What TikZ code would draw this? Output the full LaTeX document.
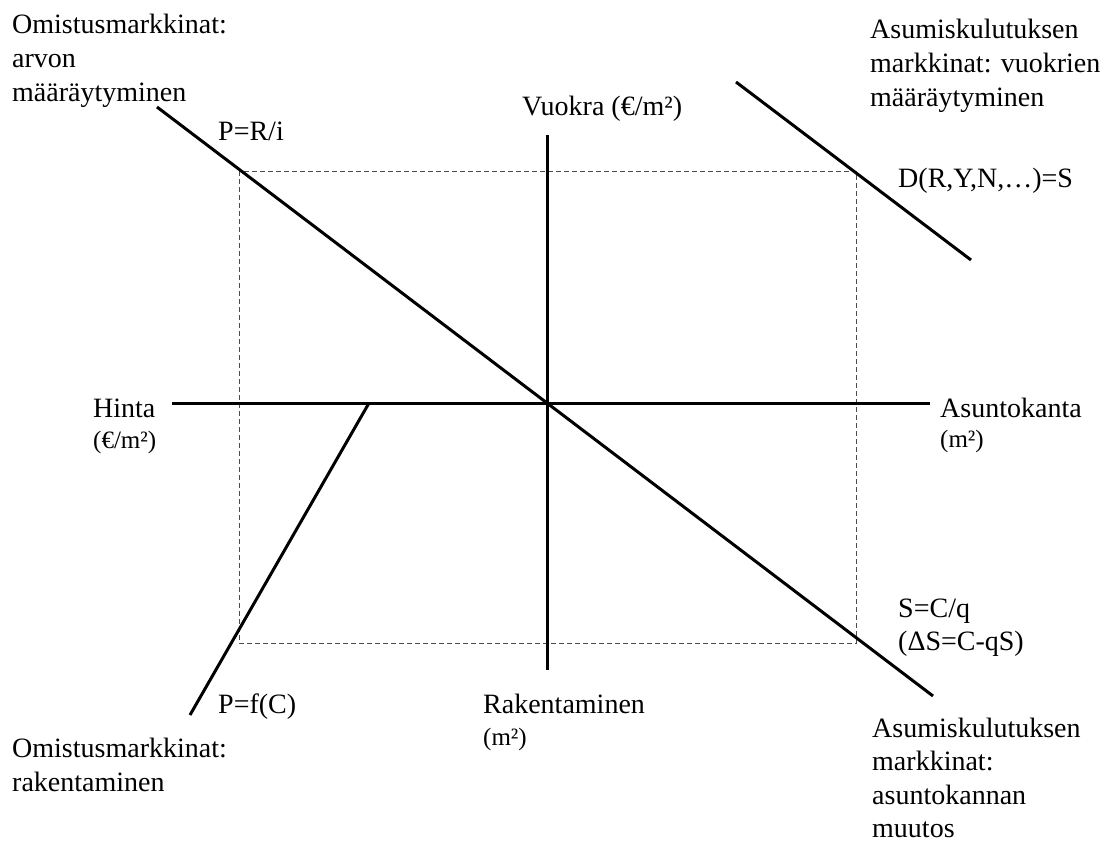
\documentclass[tikz,border=0pt]{standalone}
\usepackage{fontspec}
\setmainfont{Liberation Serif}
\begin{document}
\begin{tikzpicture}[x=1pt,y=-1pt,
  axis/.style={line width=3pt},
  curve/.style={line width=3pt},
  guide/.style={line width=0.9pt, draw=black!70, dash pattern=on 5pt off 3pt},
  lbl/.style={anchor=base west, inner sep=0pt, font=\fontsize{28}{34}\selectfont},
  small/.style={anchor=base west, inner sep=0pt, font=\fontsize{25}{30}\selectfont}]
\useasboundingbox (0,0) rectangle (1102,843);
% coordinates
\coordinate (O) at (547,403);
\coordinate (hL) at (172,403);
\coordinate (hR) at (930,403);
\coordinate (vT) at (547,135);
\coordinate (vB) at (547,670);
\coordinate (dA) at (157,107);
\coordinate (dB) at (933,696);
\coordinate (tA) at (736,82);
\coordinate (tB) at (971,260);
\coordinate (bA) at (369,403);
\coordinate (bB) at (190,715);
\coordinate (r1) at (239,171);
\coordinate (r2) at (856,643);
% guide rectangle
\draw[guide] (r1) rectangle (r2);
% axes and curves
\draw[axis] (hL) -- (hR);
\draw[axis] (vT) -- (vB);
\draw[curve] (dA) -- (dB);
\draw[curve] (tA) -- (tB);
\draw[curve] (bA) -- (bB);
% labels
\node[lbl] (tl) at (12,34) {\parbox[t]{320pt}{\raggedright Omistusmarkkinat:\\arvon\\määräytyminen}};
\node[lbl] (tr) at (870,38) {\parbox[t]{240pt}{\raggedright Asumiskulutuksen\\markkinat: vuokrien\\määräytyminen}};
\node[lbl] (bl) at (12,757) {\parbox[t]{320pt}{\raggedright Omistusmarkkinat:\\rakentaminen}};
\node[lbl] (br) at (872,737) {\parbox[t]{240pt}{\fontsize{28}{33.5}\selectfont\raggedright Asumiskulutuksen\\markkinat:\\asuntokannan\\muutos}};
\node[lbl] (scq) at (898,617) {\parbox[t]{240pt}{\fontsize{28}{33}\selectfont\raggedright S=C/q\\(ΔS=C-qS)}};
\node[lbl] (vuokra) at (522,115) {Vuokra (€/m²)};
\node[lbl] (hinta) at (93,417) {Hinta};
\node[small] (hintau) at (93,448) {(€/m²)};
\node[lbl] (kanta) at (940,417) {Asuntokanta};
\node[small] (kantau) at (940,447) {(m²)};
\node[lbl] (rak) at (483,713) {Rakentaminen};
\node[small] (raku) at (483,745) {(m²)};
\node[lbl] (pri) at (218,140) {P=R/i};
\node[lbl] (pfc) at (218,713) {P=f(C)};
\node[lbl] (dry) at (898,187) {D(R,Y,N,…)=S};
\end{tikzpicture}
\end{document}
